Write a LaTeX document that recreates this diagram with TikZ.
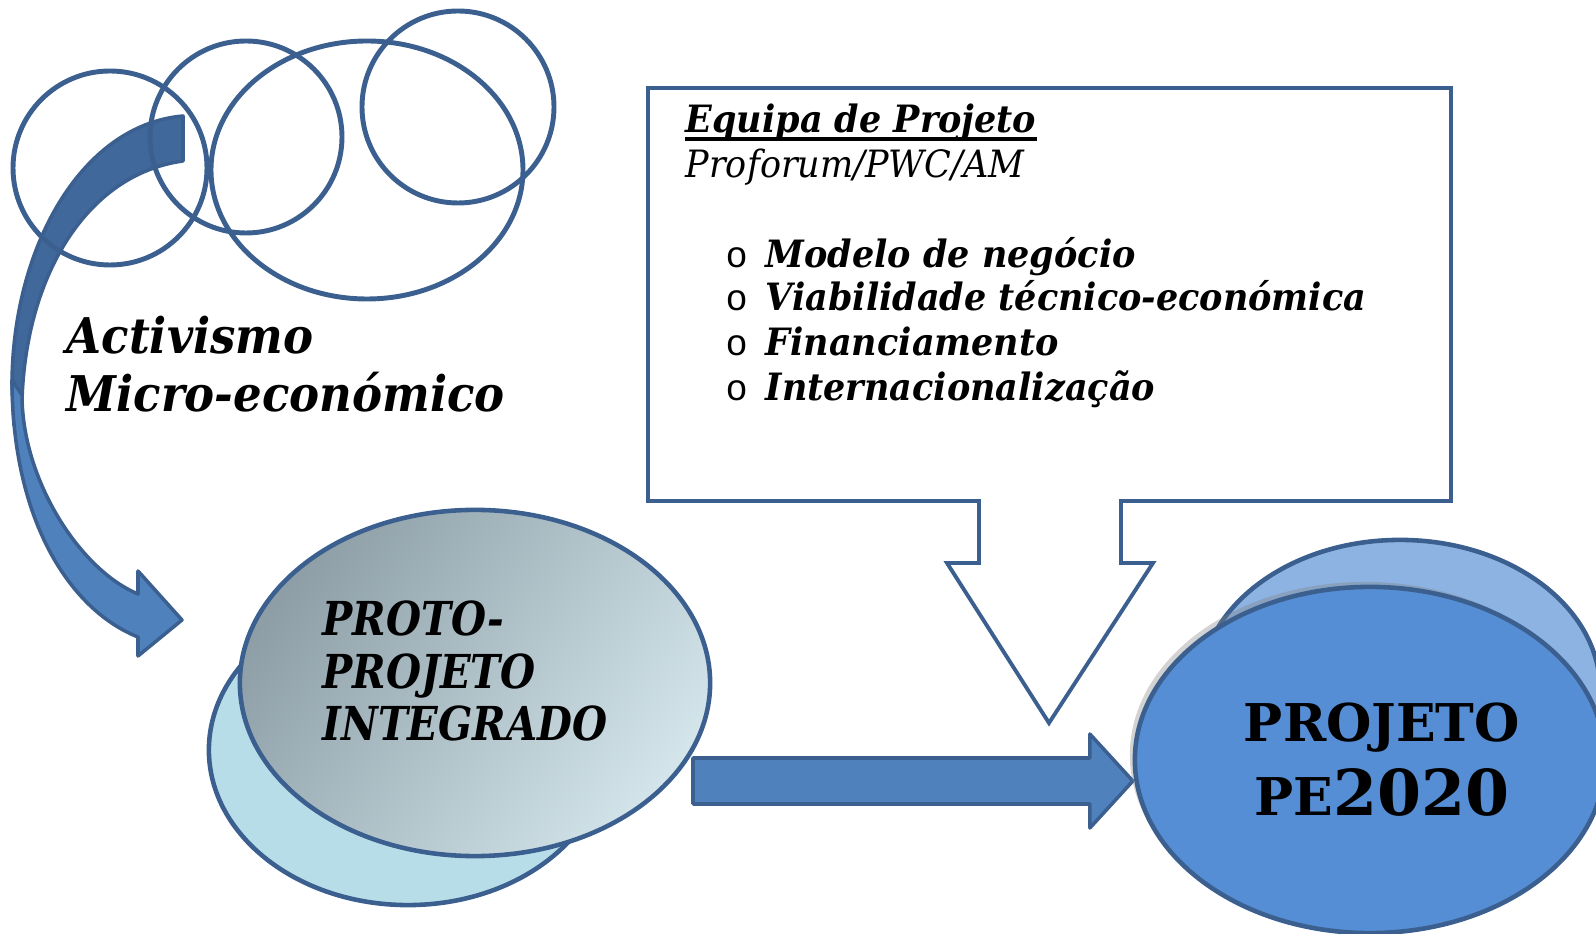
\documentclass[tikz,border=0pt]{standalone}
\usepackage{fontspec}
\setmainfont{DejaVu Serif}
\newfontfamily\headfont[FakeStretch=0.915]{DejaVu Serif}
\newfontfamily\boxfont[FakeStretch=0.93]{DejaVu Serif}
\newfontfamily\protofont[FakeStretch=0.86]{DejaVu Serif}
\newfontfamily\bulletfont{Liberation Mono}
\usetikzlibrary{shapes.geometric, calc, positioning, shadows, backgrounds}
\definecolor{edgeblue}{HTML}{3B5F8F}
\definecolor{darkband}{HTML}{41689B}
\definecolor{arrowblue}{HTML}{4F81BD}
\definecolor{paleblue}{HTML}{B7DDE8}
\definecolor{slategray}{HTML}{8D9EA6}
\definecolor{mistblue}{HTML}{D3E5EB}
\definecolor{skyblue}{HTML}{8DB3E2}
\definecolor{midblue}{HTML}{558ED5}
\tikzstyle{ring} = [draw=edgeblue, line width=1.4pt]
\tikzstyle{band} = [draw=edgeblue, line width=1pt, line join=round]
\tikzstyle{bubble} = [ellipse, draw=edgeblue, line width=1.3pt, inner sep=0pt, outer sep=0pt]
\tikzstyle{bigtext} = [anchor=base west, inner sep=0pt, font=\headfont\fontsize{14pt}{16.5pt}\selectfont\bfseries\itshape]
\tikzstyle{listitem} = [anchor=base west, inner sep=0pt, font=\boxfont\fontsize{10.7pt}{13pt}\selectfont\bfseries\itshape]
\newcommand{\bul}{\makebox[0.4cm][l]{\bulletfont\mdseries\upshape\fontsize{10.5pt}{12pt}\selectfont o}}

\begin{document}
\begin{tikzpicture}[x=0.01cm, y=-0.01cm]
\useasboundingbox (0,0) rectangle (1596,934);

\fill[band, fill=darkband] (183,116) .. controls (80,125) and (12,250) .. (12,385)
  -- (14,425) -- (22,425) .. controls (18,290) and (80,175) .. (183,161) -- cycle;
\fill[band, fill=arrowblue] (12,380) .. controls (12,520) and (70,610) .. (138,637)
  -- (138,656) -- (182,620) -- (138,571) -- (138,594)
  .. controls (80,570) and (22,480) .. (22,395) -- cycle;

\draw[ring] (110,168) circle [radius=97];
\draw[ring] (246,137) circle [radius=96];
\draw[ring] (367,170) ellipse [x radius=156, y radius=129];
\draw[ring] (458,107) circle [radius=96];

\node[bigtext] (activ) at (66,354) {Activismo};
\node[bigtext] (micro) at (66,412) {Micro-económico};

\draw[draw=edgeblue, line width=1.1pt, fill=white] (648,88) -- (1451,88) -- (1451,501)
  -- (1121,501) -- (1121,563) -- (1153,563) -- (1049,723) -- (947,563)
  -- (979,563) -- (979,501) -- (648,501) -- cycle;

\node[listitem] (team) at (685,133) {Equipa de Projeto};
\draw[line width=0.9pt] ([yshift=-1.7pt]team.base west) -- ([yshift=-1.7pt]team.base east);
\node[listitem, font=\boxfont\fontsize{10.7pt}{13pt}\selectfont\itshape] (firms) at (685,178) {Proforum/PWC/AM};
\node[listitem] (model) at (725,268) {\bul Modelo de negócio};
\node[listitem] (viab) at (725,311) {\bul Viabilidade técnico-económica};
\node[listitem] (fin) at (725,356) {\bul Financiamento};
\node[listitem] (inter) at (725,401) {\bul Internacionalização};

\node[
  bubble,
  fill=paleblue,
  minimum width=3.98cm,
  minimum height=3.1cm
  ] (protoback) at (408,750) {};
\node[
  bubble,
  left color=slategray,
  right color=mistblue,
  shading angle=55,
  minimum width=4.7cm,
  minimum height=3.46cm,
  align=left,
  font=\protofont\fontsize{13.3pt}{14.8pt}\selectfont\bfseries\itshape
  ] (proto) at (475,683) {PROTO-\\PROJETO\\INTEGRADO\rule[-7pt]{0.2cm}{0pt}};

\node[
  bubble,
  fill=skyblue,
  minimum width=4cm,
  minimum height=3cm
  ] (projetoback) at (1400,690) {};
\node[
  bubble,
  fill=midblue,
  drop shadow={shadow xshift=-0.05cm, shadow yshift=0.05cm, opacity=0.35},
  minimum width=4.7cm,
  minimum height=3.46cm,
  align=center,
  font=\fontsize{14.8pt}{21pt}\selectfont\bfseries
  ] (projeto) at (1370,760) {\rule{0.24cm}{0pt}PROJETO\\\rule{0.24cm}{0pt}PE{\fontsize{18pt}{21pt}\selectfont 2020}};

\coordinate (flowtail) at (693,781);
\coordinate (flowtip) at ($(projeto.west)+(-2,21)$);
\begin{scope}[on background layer]
\draw[band, fill=arrowblue] ($(flowtail)+(0,-23)$) -- ($(flowtip)+(-43,-23)$) -- ($(flowtip)+(-43,-47)$)
  -- (flowtip) -- ($(flowtip)+(-43,47)$) -- ($(flowtip)+(-43,23)$) -- ($(flowtail)+(0,23)$) -- cycle;
\end{scope}
\end{tikzpicture}
\end{document}
